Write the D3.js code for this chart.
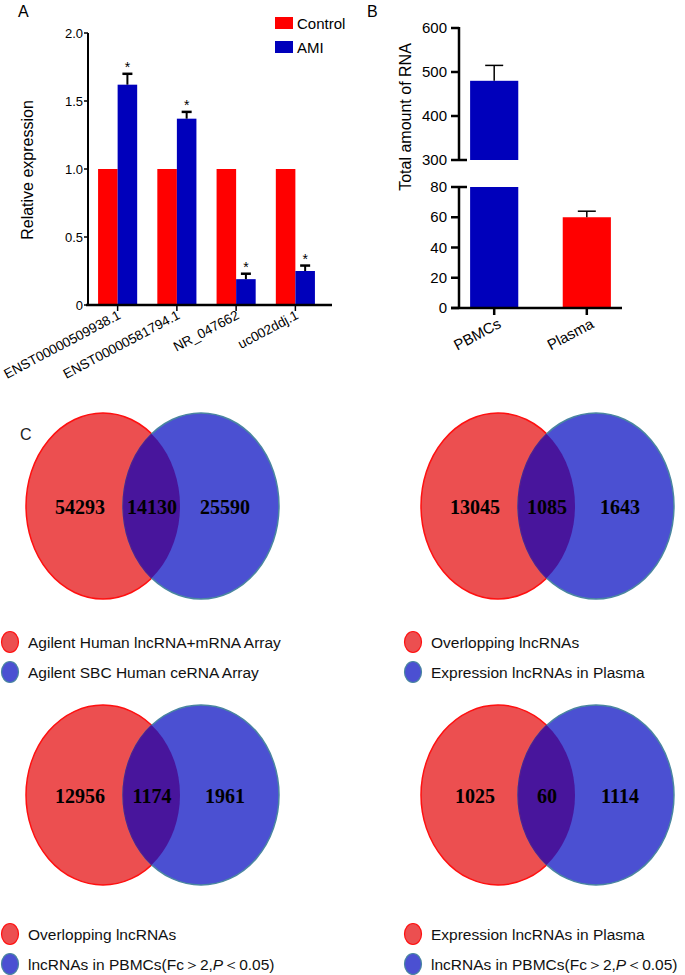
<!DOCTYPE html>
<html>
<head>
<meta charset="utf-8">
<script src="https://cdn.jsdelivr.net/npm/d3@7"></script>
<style>
  body { margin: 0; background: #fff; }
  svg { font-family: "Liberation Sans", Arial, sans-serif; }
</style>
</head>
<body>
<div id="chart"></div>
<script>
// ---- data ----
var genes = ["ENST00000509938.1", "ENST00000581794.1", "NR_047662", "uc002ddj.1"]
var controlExpr = [1, 1, 1, 1]
var amiExpr = [1.62, 1.37, 0.19, 0.25]
var amiErr = [0.08, 0.05, 0.04, 0.04]
var yTicksA = [0, 0.5, 1.0, 1.5, 2.0]

var samples = ["PBMCs", "Plasma"]
var rnaTotal = [480, 60]
var rnaErr = [35, 4]
var yTicksTop = [300, 400, 500, 600]
var yTicksBot = [0, 20, 40, 60, 80]

var vennCounts = [
    [54293, 14130, 25590],
    [13045, 1085, 1643],
    [12956, 1174, 1961],
    [1025, 60, 1114]
]
var vennLegends = [
    ["Agilent Human lncRNA+mRNA Array", "Agilent SBC Human ceRNA Array"],
    ["Overlopping lncRNAs", "Expression lncRNAs in Plasma"],
    ["Overlopping lncRNAs", "lncRNAs in PBMCs(Fc\uFF1E2,<i>P</i>\uFF1C0.05)"],
    ["Expression lncRNAs in Plasma", "lncRNAs in PBMCs(Fc\uFF1E2,<i>P</i>\uFF1C0.05)"]
]

var RED = '#ff0000'
var BLUE = '#0000bb'

var svg = d3.select('#chart').append('svg')
    .attr('width', 685).attr('height', 975)

// ================= Panel A =================
var gA = svg.append('g')
svg.append('text').attr('x', 18).attr('y', 17).attr('font-size', 16).text('A')

var yA = d3.scaleLinear().domain([0, 2]).range([305, 33])
var xA = d3.scaleBand().domain(genes).range([88, 325]).paddingInner(0.34).paddingOuter(0.17)
var bw = xA.bandwidth() / 2

genes.forEach(function (g, i) {
    gA.append('rect')
        .attr('x', xA(g)).attr('y', yA(controlExpr[i]))
        .attr('width', bw).attr('height', yA(0) - yA(controlExpr[i]))
        .attr('fill', RED)
    var bx = xA(g) + bw
    gA.append('rect')
        .attr('x', bx).attr('y', yA(amiExpr[i]))
        .attr('width', bw).attr('height', yA(0) - yA(amiExpr[i]))
        .attr('fill', BLUE)
    var cx = bx + bw / 2
    var top = yA(amiExpr[i] + amiErr[i])
    gA.append('line').attr('x1', cx).attr('x2', cx)
        .attr('y1', yA(amiExpr[i])).attr('y2', top)
        .attr('stroke', '#000').attr('stroke-width', 2)
    gA.append('line').attr('x1', cx - 5).attr('x2', cx + 5)
        .attr('y1', top).attr('y2', top)
        .attr('stroke', '#000').attr('stroke-width', 2.5)
    gA.append('text').attr('x', cx).attr('y', top - 2)
        .attr('text-anchor', 'middle').attr('font-size', 14).text('*')
})

// y axis
gA.append('line').attr('x1', 88).attr('x2', 88).attr('y1', 33).attr('y2', 306)
    .attr('stroke', '#000').attr('stroke-width', 2)
yTicksA.forEach(function (t) {
    gA.append('line').attr('x1', 84).attr('x2', 88).attr('y1', yA(t)).attr('y2', yA(t))
        .attr('stroke', '#000').attr('stroke-width', 1.5)
    gA.append('text').attr('x', 83).attr('y', yA(t) + 4.5)
        .attr('text-anchor', 'end').attr('font-size', 13)
        .text(t === 0 ? '0' : t.toFixed(1))
})
// x axis
gA.append('line').attr('x1', 86).attr('x2', 332).attr('y1', 305).attr('y2', 305)
    .attr('stroke', '#000').attr('stroke-width', 2.5)
genes.forEach(function (g) {
    var tx = xA(g) + bw
    gA.append('line').attr('x1', tx).attr('x2', tx).attr('y1', 305).attr('y2', 311)
        .attr('stroke', '#000').attr('stroke-width', 1.5)
    gA.append('text')
        .attr('transform', 'translate(' + (tx + 4) + ',318) rotate(-28)')
        .attr('text-anchor', 'end').attr('font-size', 13.5).text(g)
})
gA.append('text')
    .attr('transform', 'translate(33,170) rotate(-90)')
    .attr('text-anchor', 'middle').attr('font-size', 16).text('Relative expression')

// legend
var legA = [['Control', RED], ['AMI', BLUE]]
legA.forEach(function (d, i) {
    gA.append('rect').attr('x', 275).attr('y', 17 + i * 24).attr('width', 18).attr('height', 12)
        .attr('fill', d[1])
    gA.append('text').attr('x', 297).attr('y', 29 + i * 24).attr('font-size', 15).text(d[0])
})

// ================= Panel B =================
var gB = svg.append('g')
svg.append('text').attr('x', 367).attr('y', 17).attr('font-size', 16).text('B')

var yTop = d3.scaleLinear().domain([300, 600]).range([160, 28])
var yBot = d3.scaleLinear().domain([0, 80]).range([308, 187])
var xB = d3.scaleBand().domain(samples).range([459, 622]).paddingInner(0.48).paddingOuter(0.12)

samples.forEach(function (s, i) {
    var v = rnaTotal[i]
    var col = i === 0 ? BLUE : RED
    var x0 = xB(s), w = xB.bandwidth()
    var vb = Math.min(v, 80)
    gB.append('rect').attr('x', x0).attr('y', yBot(vb)).attr('width', w)
        .attr('height', yBot(0) - yBot(vb)).attr('fill', col)
    var topY
    if (v > 300) {
        gB.append('rect').attr('x', x0).attr('y', yTop(v)).attr('width', w)
            .attr('height', yTop(300) - yTop(v)).attr('fill', col)
        topY = yTop
    } else {
        topY = yBot
    }
    var cx = x0 + w / 2
    gB.append('line').attr('x1', cx).attr('x2', cx)
        .attr('y1', topY(v)).attr('y2', topY(v + rnaErr[i]))
        .attr('stroke', '#000').attr('stroke-width', 1.5)
    gB.append('line').attr('x1', cx - 9).attr('x2', cx + 9)
        .attr('y1', topY(v + rnaErr[i])).attr('y2', topY(v + rnaErr[i]))
        .attr('stroke', '#000').attr('stroke-width', 1.5)
})

// broken y axis
gB.append('line').attr('x1', 459).attr('x2', 459).attr('y1', 27).attr('y2', 160)
    .attr('stroke', '#000').attr('stroke-width', 2.5)
gB.append('line').attr('x1', 459).attr('x2', 459).attr('y1', 187).attr('y2', 309)
    .attr('stroke', '#000').attr('stroke-width', 2.5)
yTicksTop.forEach(function (t) {
    var y = yTop(t)
    gB.append('line').attr('x1', 451).attr('x2', t === 300 ? 467 : 459).attr('y1', y).attr('y2', y)
        .attr('stroke', '#000').attr('stroke-width', 2.5)
    gB.append('text').attr('x', 447).attr('y', y + 5).attr('text-anchor', 'end')
        .attr('font-size', 15).text(t)
})
yTicksBot.forEach(function (t) {
    var y = yBot(t)
    gB.append('line').attr('x1', 451).attr('x2', t === 80 ? 467 : 459).attr('y1', y).attr('y2', y)
        .attr('stroke', '#000').attr('stroke-width', 2.5)
    gB.append('text').attr('x', 447).attr('y', y + 5).attr('text-anchor', 'end')
        .attr('font-size', 15).text(t)
})
gB.append('line').attr('x1', 451).attr('x2', 622).attr('y1', 308).attr('y2', 308)
    .attr('stroke', '#000').attr('stroke-width', 2.5)
samples.forEach(function (s) {
    var tx = xB(s) + xB.bandwidth() / 2
    gB.append('line').attr('x1', tx).attr('x2', tx).attr('y1', 308).attr('y2', 315)
        .attr('stroke', '#000').attr('stroke-width', 2.5)
    gB.append('text')
        .attr('transform', 'translate(' + (tx + 8) + ',327) rotate(-28)')
        .attr('text-anchor', 'end').attr('font-size', 15).text(s)
})
gB.append('text')
    .attr('transform', 'translate(411,117) rotate(-90)')
    .attr('text-anchor', 'middle').attr('font-size', 16).text('Total amount of RNA')

// ================= Panel C =================
svg.append('text').attr('x', 20).attr('y', 440).attr('font-size', 16).attr('fill', '#222').text('C')

var vennPos = [[0, 0], [395, 0], [0, 289], [395, 289]]
var defs = svg.append('defs')

vennCounts.forEach(function (counts, k) {
    var ox = vennPos[k][0], oy = vennPos[k][1]
    var g = svg.append('g').attr('transform', 'translate(' + ox + ',' + oy + ')')
    var cy = 506
    var ryv = k >= 2 ? 90 : 93
    defs.append('clipPath').attr('id', 'clipRed' + k)
        .append('ellipse').attr('cx', 103).attr('cy', cy).attr('rx', 77).attr('ry', ryv)
    g.append('ellipse').attr('cx', 103).attr('cy', cy).attr('rx', 77).attr('ry', ryv)
        .attr('fill', '#ec4f50').attr('stroke', '#ff1010').attr('stroke-width', 1.5)
    g.append('ellipse').attr('cx', 201).attr('cy', cy).attr('rx', 78).attr('ry', ryv)
        .attr('fill', '#4b50d2').attr('stroke', '#4a86a0').attr('stroke-width', 1.5)
    g.append('ellipse').attr('cx', 201).attr('cy', cy).attr('rx', 78).attr('ry', ryv)
        .attr('clip-path', 'url(#clipRed' + k + ')')
        .attr('fill', '#48159c').attr('stroke', '#5a1a8a').attr('stroke-width', 1.2)
    var xs = [80, 152, 225]
    counts.forEach(function (c, j) {
        g.append('text').attr('x', xs[j]).attr('y', cy + 8)
            .attr('text-anchor', 'middle')
            .attr('font-family', '"Liberation Serif", "Times New Roman", serif')
            .attr('font-weight', 'bold').attr('font-size', 20).text(c)
    })
    // legend
    var ly = k >= 2 ? 934 : 642
    var lx = k % 2 === 0 ? 10 : 413
    vennLegends[k].forEach(function (txt, j) {
        var yy = ly + j * 30
        svg.append('ellipse').attr('cx', lx).attr('cy', yy).attr('rx', 8.5).attr('ry', 10.5)
            .attr('fill', j === 0 ? '#ec4f50' : '#4b50d2')
            .attr('stroke', j === 0 ? '#ff1010' : '#4a86a0').attr('stroke-width', 1.2)
        var t = svg.append('text').attr('x', lx + 18).attr('y', yy + 5.5)
            .attr('font-size', 15.5).attr('fill', '#111')
        if (txt.indexOf('<i>') >= 0) {
            var parts = txt.split(/<i>|<\/i>/)
            t.append('tspan').text(parts[0])
            t.append('tspan').attr('font-style', 'italic').text(parts[1])
            t.append('tspan').text(parts[2])
        } else {
            t.text(txt)
        }
    })
})
</script>
</body>
</html>
